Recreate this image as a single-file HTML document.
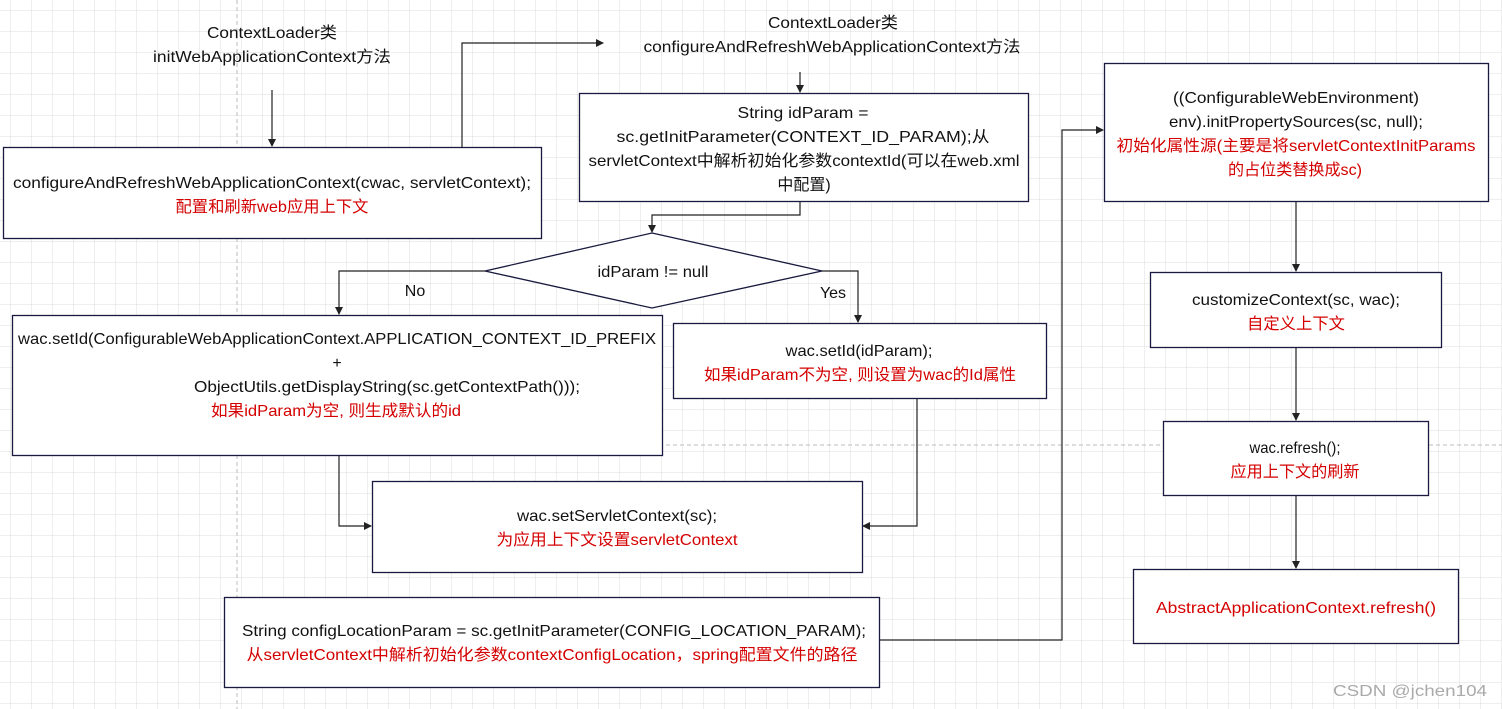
<!DOCTYPE html>
<html><head><meta charset="utf-8"><style>
html,body{margin:0;padding:0;background:#fff;}
svg{display:block;}
text{font-family:"Liberation Sans","Noto Sans CJK SC",sans-serif;font-size:16px;fill:#111;}
.r{fill:#d40000;}
</style></head><body>
<svg width="1502" height="709" viewBox="0 0 1502 709" xmlns="http://www.w3.org/2000/svg">
<defs>
<pattern id="g" width="21" height="21" patternUnits="userSpaceOnUse" x="10" y="10">
<path d="M0 0H21M0 0V21" stroke="#dcdcdc" stroke-width="1" fill="none"/>
</pattern>
<marker id="a" markerWidth="8" markerHeight="8" refX="7" refY="4" orient="auto" markerUnits="userSpaceOnUse">
<path d="M0 0L8 4L0 8Z" fill="#222"/>
</marker>
</defs>
<rect width="1502" height="709" fill="url(#g)"/>
<line x1="237" y1="0" x2="237" y2="709" stroke="#bbb" stroke-dasharray="4 3"/>
<line x1="470" y1="445" x2="1502" y2="445" stroke="#bbb" stroke-dasharray="4 3"/>

<g fill="none" stroke="#222" stroke-width="1.2">
<path d="M272 90V146" marker-end="url(#a)"/>
<path d="M462 147V43H603" marker-end="url(#a)"/>
<path d="M800 72V92" marker-end="url(#a)"/>
<path d="M800 201V215H652V232" marker-end="url(#a)"/>
<path d="M485 271H339V314" marker-end="url(#a)"/>
<path d="M822 271H858V322" marker-end="url(#a)"/>
<path d="M339 455V526H371" marker-end="url(#a)"/>
<path d="M917 398V526H863" marker-end="url(#a)"/>
<path d="M879 640H1062V130H1103" marker-end="url(#a)"/>
<path d="M1296 201V271" marker-end="url(#a)"/>
<path d="M1296 347V420" marker-end="url(#a)"/>
<path d="M1296 495V568" marker-end="url(#a)"/>
</g>

<g fill="#fff" stroke="#1a1a40" stroke-width="1.3">
<rect x="3.5" y="147.5" width="538" height="91"/>
<rect x="579.5" y="93.5" width="449" height="108"/>
<path d="M652 233L822 271L652 308L485 271Z"/>
<rect x="12.5" y="315.5" width="650" height="140"/>
<rect x="673.5" y="323.5" width="373" height="75"/>
<rect x="372.5" y="481.5" width="490" height="91"/>
<rect x="224.5" y="597.5" width="655" height="90"/>
<rect x="1104.5" y="63.5" width="384" height="138"/>
<rect x="1150.5" y="272.5" width="291" height="75"/>
<rect x="1163.5" y="421.5" width="265" height="74"/>
<rect x="1133.5" y="569.5" width="325" height="74"/>
</g>

<g text-anchor="middle" lengthAdjust="spacingAndGlyphs">
<text x="272" y="38" textLength="130" lengthAdjust="spacingAndGlyphs">ContextLoader类</text>
<text x="272" y="62" textLength="238" lengthAdjust="spacingAndGlyphs">initWebApplicationContext方法</text>
<text x="833" y="28" textLength="130" lengthAdjust="spacingAndGlyphs">ContextLoader类</text>
<text x="832" y="52" textLength="377" lengthAdjust="spacingAndGlyphs">configureAndRefreshWebApplicationContext方法</text>
<text x="272" y="188" textLength="518" lengthAdjust="spacingAndGlyphs">configureAndRefreshWebApplicationContext(cwac, servletContext);</text>
<text x="272" y="212" class="r" textLength="193" lengthAdjust="spacingAndGlyphs">配置和刷新web应用上下文</text>
<text x="803" y="118" textLength="131" lengthAdjust="spacingAndGlyphs">String idParam =</text>
<text x="803" y="142" textLength="373" lengthAdjust="spacingAndGlyphs">sc.getInitParameter(CONTEXT_ID_PARAM);从</text>
<text x="804" y="166" textLength="431" lengthAdjust="spacingAndGlyphs">servletContext中解析初始化参数contextId(可以在web.xml</text>
<text x="804" y="190">中配置)</text>
<text x="653" y="277" textLength="111" lengthAdjust="spacingAndGlyphs">idParam != null</text>
<text x="415" y="296">No</text>
<text x="833" y="298">Yes</text>
<text x="337" y="344" textLength="638" lengthAdjust="spacingAndGlyphs">wac.setId(ConfigurableWebApplicationContext.APPLICATION_CONTEXT_ID_PREFIX</text>
<text x="337" y="368">+</text>
<text x="387" y="392" textLength="386" lengthAdjust="spacingAndGlyphs">ObjectUtils.getDisplayString(sc.getContextPath()));</text>
<text x="336" y="416" class="r" textLength="250" lengthAdjust="spacingAndGlyphs">如果idParam为空, 则生成默认的id</text>
<text x="859" y="356" textLength="147" lengthAdjust="spacingAndGlyphs">wac.setId(idParam);</text>
<text x="860" y="380" class="r" textLength="312" lengthAdjust="spacingAndGlyphs">如果idParam不为空, 则设置为wac的Id属性</text>
<text x="617" y="521" textLength="200" lengthAdjust="spacingAndGlyphs">wac.setServletContext(sc);</text>
<text x="617" y="545" class="r" textLength="241" lengthAdjust="spacingAndGlyphs">为应用上下文设置servletContext</text>
<text x="554" y="636" textLength="624" lengthAdjust="spacingAndGlyphs">String configLocationParam = sc.getInitParameter(CONFIG_LOCATION_PARAM);</text>
<text x="552" y="660" class="r" textLength="611" lengthAdjust="spacingAndGlyphs">从servletContext中解析初始化参数contextConfigLocation，spring配置文件的路径</text>
<text x="1296" y="103" textLength="246" lengthAdjust="spacingAndGlyphs">((ConfigurableWebEnvironment)</text>
<text x="1296" y="127" textLength="254" lengthAdjust="spacingAndGlyphs">env).initPropertySources(sc, null);</text>
<text x="1296" y="151" class="r" textLength="359" lengthAdjust="spacingAndGlyphs">初始化属性源(主要是将servletContextInitParams</text>
<text x="1295" y="175" class="r" textLength="134" lengthAdjust="spacingAndGlyphs">的占位类替换成sc)</text>
<text x="1296" y="305" textLength="208" lengthAdjust="spacingAndGlyphs">customizeContext(sc, wac);</text>
<text x="1296" y="329" class="r" textLength="98" lengthAdjust="spacingAndGlyphs">自定义上下文</text>
<text x="1295" y="453" textLength="91" lengthAdjust="spacingAndGlyphs">wac.refresh();</text>
<text x="1295" y="477" class="r" textLength="129" lengthAdjust="spacingAndGlyphs">应用上下文的刷新</text>
<text x="1296" y="613" class="r" textLength="280" lengthAdjust="spacingAndGlyphs">AbstractApplicationContext.refresh()</text>
</g>
<text x="1333" y="696" style="fill:#aaa;font-size:16px" textLength="154" lengthAdjust="spacingAndGlyphs">CSDN @jchen104</text>
</svg>
</body></html>
